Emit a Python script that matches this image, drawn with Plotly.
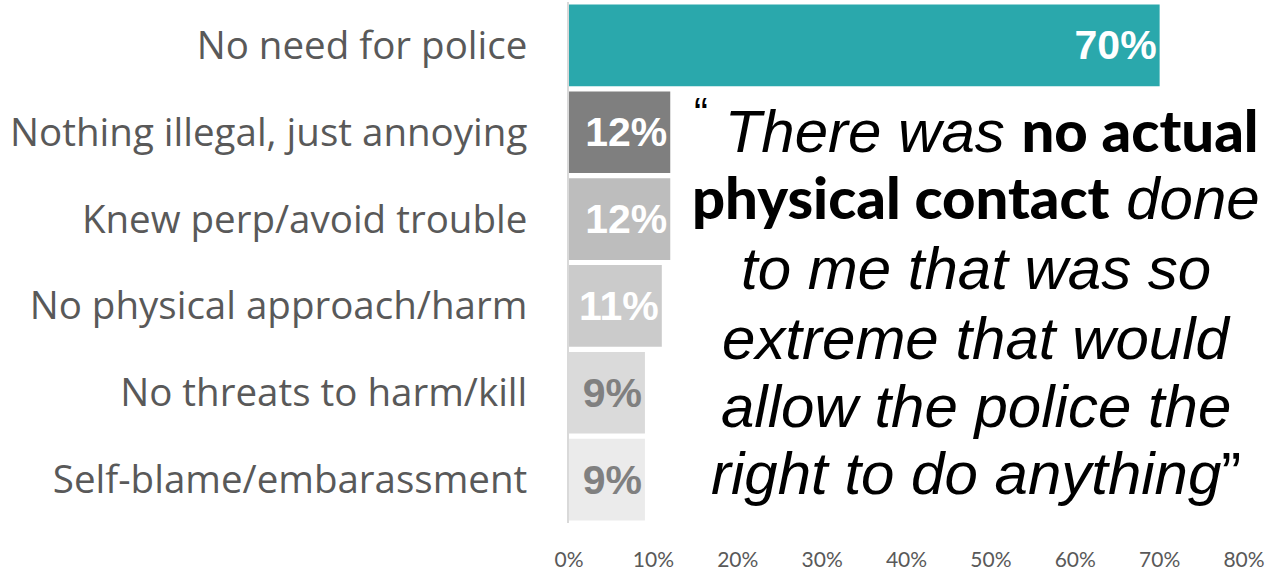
import plotly.graph_objects as go

categories = ["No need for police", "Nothing illegal, just annoying", "Knew perp/avoid trouble",
              "No physical approach/harm", "No threats to harm/kill", "Self-blame/embarassment"]
values = [70, 12, 12, 11, 9, 9]
bar_colors = ["#2AA8AC", "#7F7F7F", "#BDBDBD", "#CBCBCB", "#DADADA", "#EBEBEB"]
label_colors = ["#FFFFFF", "#FFFFFF", "#FFFFFF", "#FFFFFF", "#808080", "#808080"]
tick_vals = [0, 10, 20, 30, 40, 50, 60, 70, 80]
tick_text = ["0%", "10%", "20%", "30%", "40%", "50%", "60%", "70%", "80%"]

BOLD = '<span style="font-family:Lato;font-weight:900;font-style:normal;font-size:58px">'
quote_lines = [
    '<sup>“</sup> <i>There was</i> ' + BOLD + 'no actual</span>',
    BOLD + 'physical contact</span> <i>done</i>',
    '<i>to me that was so</i>',
    '<i>extreme that would</i>',
    '<i>allow the police the</i>',
    '<i>right to do anything</i>”',
]

W, H = 1272, 571
ml, mr, mt, mb = 569, 28, 2, 48

fig = go.Figure()
fig.add_trace(go.Bar(
    x=values, y=categories, orientation="h",
    marker=dict(color=bar_colors, line=dict(width=0)),
    text=[f"{v}%" for v in values],
    textposition="inside", insidetextanchor="end",
    textfont=dict(family="Liberation Sans", size=41, color=label_colors, weight="bold"),
    cliponaxis=False, hoverinfo="skip",
))

quote_y_px = [127, 197, 268, 338, 406, 473]
for line, ypx in zip(quote_lines, quote_y_px):
    fig.add_annotation(
        x=(976 - ml) / (W - ml - mr), y=1 - (ypx - mt) / (H - mt - mb),
        xref="paper", yref="paper", text=line, showarrow=False,
        xanchor="center", yanchor="middle",
        font=dict(family="Liberation Sans", size=60, color="#000000"),
    )

fig.update_layout(
    width=W, height=H,
    margin=dict(l=ml, r=mr, t=mt, b=mb, autoexpand=False),
    paper_bgcolor="white", plot_bgcolor="white",
    bargap=0.06, showlegend=False,
    xaxis=dict(range=[0, 80], tickvals=tick_vals, ticktext=tick_text, showgrid=False,
               zeroline=False, showline=False, ticks="", ticklabelstandoff=22, automargin=False,
               tickfont=dict(family="Lato", size=21, color="#595959")),
    yaxis=dict(autorange="reversed", showgrid=False, zeroline=False, showline=True,
               linecolor="#D9D9D9", linewidth=2, ticks="", ticklabelstandoff=32, automargin=False,
               tickfont=dict(family="Open Sans", size=38.5, color="#595959")),
)

fig.write_html("out.html", config={"displayModeBar": False},
               post_script="document.body.style.margin='0';document.body.style.overflow='hidden';")
